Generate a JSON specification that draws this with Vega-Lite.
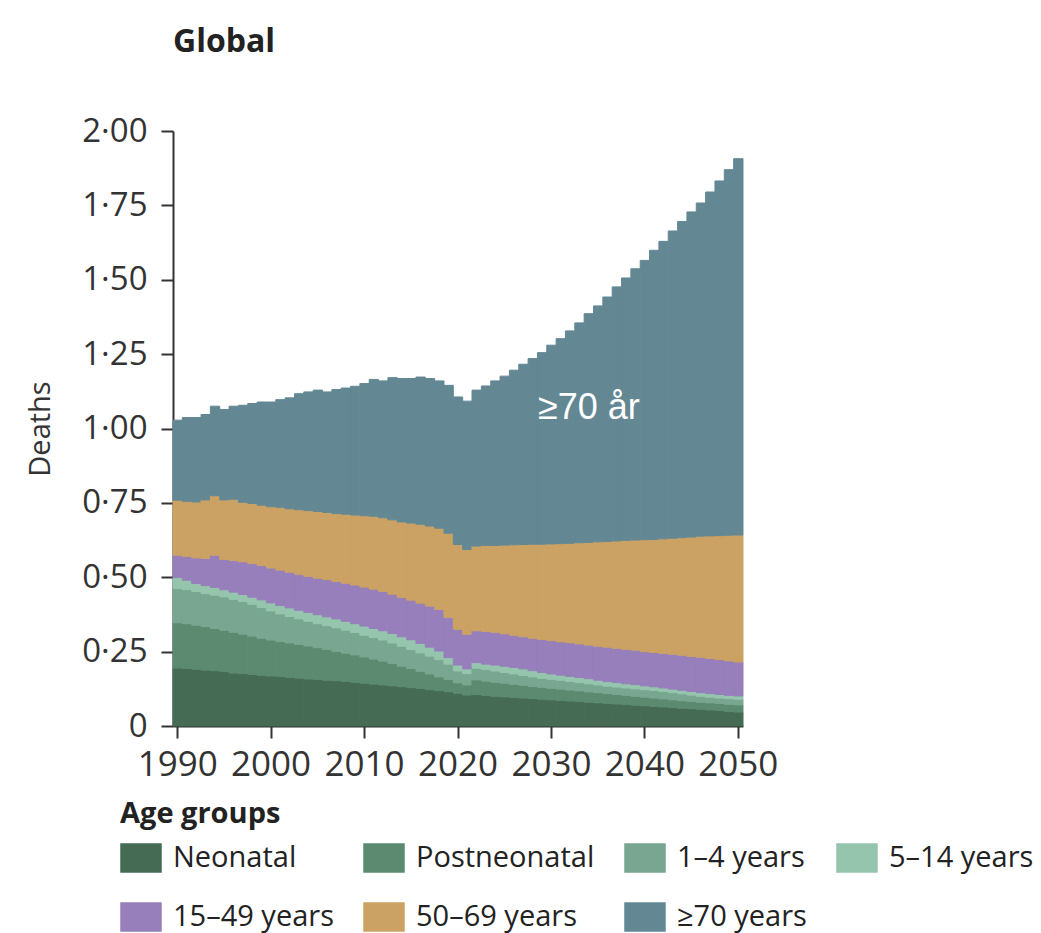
{
"$schema":"https://vega.github.io/schema/vega-lite/v6.json",
"width":570,"height":595,
"autosize":"none",
"padding":{"left":173,"top":131,"right":298,"bottom":207},
"background":"white",
"title":{"text":"Global","anchor":"start","frame":"group","offset":56,"font":"Open Sans","fontSize":32,"fontWeight":"bold","color":"#222"},
"config":{"view":{"stroke":null},"font":"Open Sans"},
"layer":[
{"data":{"values":[
{"year":1990,"group":"Neonatal","deaths":0.195},{"year":1990,"group":"Postneonatal","deaths":0.152},{"year":1990,"group":"1–4 years","deaths":0.115},{"year":1990,"group":"5–14 years","deaths":0.037},{"year":1990,"group":"15–49 years","deaths":0.075},{"year":1990,"group":"50–69 years","deaths":0.185},{"year":1990,"group":"≥70 years","deaths":0.269},
{"year":1991,"group":"Neonatal","deaths":0.193},{"year":1991,"group":"Postneonatal","deaths":0.151},{"year":1991,"group":"1–4 years","deaths":0.114},{"year":1991,"group":"5–14 years","deaths":0.032},{"year":1991,"group":"15–49 years","deaths":0.080},{"year":1991,"group":"50–69 years","deaths":0.185},{"year":1991,"group":"≥70 years","deaths":0.282},
{"year":1992,"group":"Neonatal","deaths":0.191},{"year":1992,"group":"Postneonatal","deaths":0.148},{"year":1992,"group":"1–4 years","deaths":0.113},{"year":1992,"group":"5–14 years","deaths":0.027},{"year":1992,"group":"15–49 years","deaths":0.086},{"year":1992,"group":"50–69 years","deaths":0.188},{"year":1992,"group":"≥70 years","deaths":0.284},
{"year":1993,"group":"Neonatal","deaths":0.188},{"year":1993,"group":"Postneonatal","deaths":0.146},{"year":1993,"group":"1–4 years","deaths":0.111},{"year":1993,"group":"5–14 years","deaths":0.027},{"year":1993,"group":"15–49 years","deaths":0.091},{"year":1993,"group":"50–69 years","deaths":0.197},{"year":1993,"group":"≥70 years","deaths":0.287},
{"year":1994,"group":"Neonatal","deaths":0.186},{"year":1994,"group":"Postneonatal","deaths":0.142},{"year":1994,"group":"1–4 years","deaths":0.112},{"year":1994,"group":"5–14 years","deaths":0.026},{"year":1994,"group":"15–49 years","deaths":0.108},{"year":1994,"group":"50–69 years","deaths":0.200},{"year":1994,"group":"≥70 years","deaths":0.301},
{"year":1995,"group":"Neonatal","deaths":0.183},{"year":1995,"group":"Postneonatal","deaths":0.139},{"year":1995,"group":"1–4 years","deaths":0.112},{"year":1995,"group":"5–14 years","deaths":0.024},{"year":1995,"group":"15–49 years","deaths":0.102},{"year":1995,"group":"50–69 years","deaths":0.200},{"year":1995,"group":"≥70 years","deaths":0.304},
{"year":1996,"group":"Neonatal","deaths":0.178},{"year":1996,"group":"Postneonatal","deaths":0.137},{"year":1996,"group":"1–4 years","deaths":0.111},{"year":1996,"group":"5–14 years","deaths":0.024},{"year":1996,"group":"15–49 years","deaths":0.106},{"year":1996,"group":"50–69 years","deaths":0.206},{"year":1996,"group":"≥70 years","deaths":0.313},
{"year":1997,"group":"Neonatal","deaths":0.176},{"year":1997,"group":"Postneonatal","deaths":0.133},{"year":1997,"group":"1–4 years","deaths":0.109},{"year":1997,"group":"5–14 years","deaths":0.024},{"year":1997,"group":"15–49 years","deaths":0.110},{"year":1997,"group":"50–69 years","deaths":0.200},{"year":1997,"group":"≥70 years","deaths":0.326},
{"year":1998,"group":"Neonatal","deaths":0.173},{"year":1998,"group":"Postneonatal","deaths":0.129},{"year":1998,"group":"1–4 years","deaths":0.107},{"year":1998,"group":"5–14 years","deaths":0.024},{"year":1998,"group":"15–49 years","deaths":0.113},{"year":1998,"group":"50–69 years","deaths":0.202},{"year":1998,"group":"≥70 years","deaths":0.336},
{"year":1999,"group":"Neonatal","deaths":0.170},{"year":1999,"group":"Postneonatal","deaths":0.125},{"year":1999,"group":"1–4 years","deaths":0.103},{"year":1999,"group":"5–14 years","deaths":0.026},{"year":1999,"group":"15–49 years","deaths":0.116},{"year":1999,"group":"50–69 years","deaths":0.202},{"year":1999,"group":"≥70 years","deaths":0.347},
{"year":2000,"group":"Neonatal","deaths":0.168},{"year":2000,"group":"Postneonatal","deaths":0.121},{"year":2000,"group":"1–4 years","deaths":0.098},{"year":2000,"group":"5–14 years","deaths":0.027},{"year":2000,"group":"15–49 years","deaths":0.117},{"year":2000,"group":"50–69 years","deaths":0.206},{"year":2000,"group":"≥70 years","deaths":0.352},
{"year":2001,"group":"Neonatal","deaths":0.166},{"year":2001,"group":"Postneonatal","deaths":0.118},{"year":2001,"group":"1–4 years","deaths":0.093},{"year":2001,"group":"5–14 years","deaths":0.028},{"year":2001,"group":"15–49 years","deaths":0.119},{"year":2001,"group":"50–69 years","deaths":0.211},{"year":2001,"group":"≥70 years","deaths":0.362},
{"year":2002,"group":"Neonatal","deaths":0.163},{"year":2002,"group":"Postneonatal","deaths":0.116},{"year":2002,"group":"1–4 years","deaths":0.089},{"year":2002,"group":"5–14 years","deaths":0.029},{"year":2002,"group":"15–49 years","deaths":0.120},{"year":2002,"group":"50–69 years","deaths":0.213},{"year":2002,"group":"≥70 years","deaths":0.373},
{"year":2003,"group":"Neonatal","deaths":0.161},{"year":2003,"group":"Postneonatal","deaths":0.113},{"year":2003,"group":"1–4 years","deaths":0.086},{"year":2003,"group":"5–14 years","deaths":0.029},{"year":2003,"group":"15–49 years","deaths":0.121},{"year":2003,"group":"50–69 years","deaths":0.217},{"year":2003,"group":"≥70 years","deaths":0.390},
{"year":2004,"group":"Neonatal","deaths":0.158},{"year":2004,"group":"Postneonatal","deaths":0.111},{"year":2004,"group":"1–4 years","deaths":0.083},{"year":2004,"group":"5–14 years","deaths":0.030},{"year":2004,"group":"15–49 years","deaths":0.121},{"year":2004,"group":"50–69 years","deaths":0.221},{"year":2004,"group":"≥70 years","deaths":0.399},
{"year":2005,"group":"Neonatal","deaths":0.156},{"year":2005,"group":"Postneonatal","deaths":0.107},{"year":2005,"group":"1–4 years","deaths":0.081},{"year":2005,"group":"5–14 years","deaths":0.030},{"year":2005,"group":"15–49 years","deaths":0.123},{"year":2005,"group":"50–69 years","deaths":0.224},{"year":2005,"group":"≥70 years","deaths":0.408},
{"year":2006,"group":"Neonatal","deaths":0.154},{"year":2006,"group":"Postneonatal","deaths":0.103},{"year":2006,"group":"1–4 years","deaths":0.080},{"year":2006,"group":"5–14 years","deaths":0.030},{"year":2006,"group":"15–49 years","deaths":0.125},{"year":2006,"group":"50–69 years","deaths":0.226},{"year":2006,"group":"≥70 years","deaths":0.405},
{"year":2007,"group":"Neonatal","deaths":0.152},{"year":2007,"group":"Postneonatal","deaths":0.099},{"year":2007,"group":"1–4 years","deaths":0.079},{"year":2007,"group":"5–14 years","deaths":0.030},{"year":2007,"group":"15–49 years","deaths":0.126},{"year":2007,"group":"50–69 years","deaths":0.228},{"year":2007,"group":"≥70 years","deaths":0.417},
{"year":2008,"group":"Neonatal","deaths":0.150},{"year":2008,"group":"Postneonatal","deaths":0.095},{"year":2008,"group":"1–4 years","deaths":0.077},{"year":2008,"group":"5–14 years","deaths":0.030},{"year":2008,"group":"15–49 years","deaths":0.128},{"year":2008,"group":"50–69 years","deaths":0.232},{"year":2008,"group":"≥70 years","deaths":0.424},
{"year":2009,"group":"Neonatal","deaths":0.147},{"year":2009,"group":"Postneonatal","deaths":0.092},{"year":2009,"group":"1–4 years","deaths":0.075},{"year":2009,"group":"5–14 years","deaths":0.030},{"year":2009,"group":"15–49 years","deaths":0.130},{"year":2009,"group":"50–69 years","deaths":0.235},{"year":2009,"group":"≥70 years","deaths":0.433},
{"year":2010,"group":"Neonatal","deaths":0.144},{"year":2010,"group":"Postneonatal","deaths":0.088},{"year":2010,"group":"1–4 years","deaths":0.073},{"year":2010,"group":"5–14 years","deaths":0.031},{"year":2010,"group":"15–49 years","deaths":0.131},{"year":2010,"group":"50–69 years","deaths":0.240},{"year":2010,"group":"≥70 years","deaths":0.444},
{"year":2011,"group":"Neonatal","deaths":0.141},{"year":2011,"group":"Postneonatal","deaths":0.084},{"year":2011,"group":"1–4 years","deaths":0.072},{"year":2011,"group":"5–14 years","deaths":0.031},{"year":2011,"group":"15–49 years","deaths":0.132},{"year":2011,"group":"50–69 years","deaths":0.245},{"year":2011,"group":"≥70 years","deaths":0.460},
{"year":2012,"group":"Neonatal","deaths":0.138},{"year":2012,"group":"Postneonatal","deaths":0.080},{"year":2012,"group":"1–4 years","deaths":0.071},{"year":2012,"group":"5–14 years","deaths":0.031},{"year":2012,"group":"15–49 years","deaths":0.132},{"year":2012,"group":"50–69 years","deaths":0.248},{"year":2012,"group":"≥70 years","deaths":0.460},
{"year":2013,"group":"Neonatal","deaths":0.135},{"year":2013,"group":"Postneonatal","deaths":0.075},{"year":2013,"group":"1–4 years","deaths":0.069},{"year":2013,"group":"5–14 years","deaths":0.032},{"year":2013,"group":"15–49 years","deaths":0.132},{"year":2013,"group":"50–69 years","deaths":0.250},{"year":2013,"group":"≥70 years","deaths":0.478},
{"year":2014,"group":"Neonatal","deaths":0.132},{"year":2014,"group":"Postneonatal","deaths":0.069},{"year":2014,"group":"1–4 years","deaths":0.067},{"year":2014,"group":"5–14 years","deaths":0.032},{"year":2014,"group":"15–49 years","deaths":0.132},{"year":2014,"group":"50–69 years","deaths":0.254},{"year":2014,"group":"≥70 years","deaths":0.482},
{"year":2015,"group":"Neonatal","deaths":0.129},{"year":2015,"group":"Postneonatal","deaths":0.064},{"year":2015,"group":"1–4 years","deaths":0.064},{"year":2015,"group":"5–14 years","deaths":0.033},{"year":2015,"group":"15–49 years","deaths":0.133},{"year":2015,"group":"50–69 years","deaths":0.259},{"year":2015,"group":"≥70 years","deaths":0.486},
{"year":2016,"group":"Neonatal","deaths":0.126},{"year":2016,"group":"Postneonatal","deaths":0.058},{"year":2016,"group":"1–4 years","deaths":0.062},{"year":2016,"group":"5–14 years","deaths":0.032},{"year":2016,"group":"15–49 years","deaths":0.135},{"year":2016,"group":"50–69 years","deaths":0.265},{"year":2016,"group":"≥70 years","deaths":0.495},
{"year":2017,"group":"Neonatal","deaths":0.122},{"year":2017,"group":"Postneonatal","deaths":0.053},{"year":2017,"group":"1–4 years","deaths":0.060},{"year":2017,"group":"5–14 years","deaths":0.030},{"year":2017,"group":"15–49 years","deaths":0.138},{"year":2017,"group":"50–69 years","deaths":0.269},{"year":2017,"group":"≥70 years","deaths":0.496},
{"year":2018,"group":"Neonatal","deaths":0.119},{"year":2018,"group":"Postneonatal","deaths":0.046},{"year":2018,"group":"1–4 years","deaths":0.058},{"year":2018,"group":"5–14 years","deaths":0.029},{"year":2018,"group":"15–49 years","deaths":0.140},{"year":2018,"group":"50–69 years","deaths":0.273},{"year":2018,"group":"≥70 years","deaths":0.495},
{"year":2019,"group":"Neonatal","deaths":0.115},{"year":2019,"group":"Postneonatal","deaths":0.041},{"year":2019,"group":"1–4 years","deaths":0.052},{"year":2019,"group":"5–14 years","deaths":0.022},{"year":2019,"group":"15–49 years","deaths":0.135},{"year":2019,"group":"50–69 years","deaths":0.283},{"year":2019,"group":"≥70 years","deaths":0.497},
{"year":2020,"group":"Neonatal","deaths":0.110},{"year":2020,"group":"Postneonatal","deaths":0.035},{"year":2020,"group":"1–4 years","deaths":0.040},{"year":2020,"group":"5–14 years","deaths":0.020},{"year":2020,"group":"15–49 years","deaths":0.120},{"year":2020,"group":"50–69 years","deaths":0.285},{"year":2020,"group":"≥70 years","deaths":0.496},
{"year":2021,"group":"Neonatal","deaths":0.104},{"year":2021,"group":"Postneonatal","deaths":0.034},{"year":2021,"group":"1–4 years","deaths":0.038},{"year":2021,"group":"5–14 years","deaths":0.016},{"year":2021,"group":"15–49 years","deaths":0.116},{"year":2021,"group":"50–69 years","deaths":0.285},{"year":2021,"group":"≥70 years","deaths":0.499},
{"year":2022,"group":"Neonatal","deaths":0.106},{"year":2022,"group":"Postneonatal","deaths":0.049},{"year":2022,"group":"1–4 years","deaths":0.039},{"year":2022,"group":"5–14 years","deaths":0.019},{"year":2022,"group":"15–49 years","deaths":0.107},{"year":2022,"group":"50–69 years","deaths":0.285},{"year":2022,"group":"≥70 years","deaths":0.524},
{"year":2023,"group":"Neonatal","deaths":0.103},{"year":2023,"group":"Postneonatal","deaths":0.048},{"year":2023,"group":"1–4 years","deaths":0.039},{"year":2023,"group":"5–14 years","deaths":0.018},{"year":2023,"group":"15–49 years","deaths":0.110},{"year":2023,"group":"50–69 years","deaths":0.289},{"year":2023,"group":"≥70 years","deaths":0.536},
{"year":2024,"group":"Neonatal","deaths":0.100},{"year":2024,"group":"Postneonatal","deaths":0.047},{"year":2024,"group":"1–4 years","deaths":0.038},{"year":2024,"group":"5–14 years","deaths":0.020},{"year":2024,"group":"15–49 years","deaths":0.110},{"year":2024,"group":"50–69 years","deaths":0.292},{"year":2024,"group":"≥70 years","deaths":0.553},
{"year":2025,"group":"Neonatal","deaths":0.098},{"year":2025,"group":"Postneonatal","deaths":0.046},{"year":2025,"group":"1–4 years","deaths":0.036},{"year":2025,"group":"5–14 years","deaths":0.021},{"year":2025,"group":"15–49 years","deaths":0.109},{"year":2025,"group":"50–69 years","deaths":0.298},{"year":2025,"group":"≥70 years","deaths":0.568},
{"year":2026,"group":"Neonatal","deaths":0.096},{"year":2026,"group":"Postneonatal","deaths":0.044},{"year":2026,"group":"1–4 years","deaths":0.035},{"year":2026,"group":"5–14 years","deaths":0.022},{"year":2026,"group":"15–49 years","deaths":0.108},{"year":2026,"group":"50–69 years","deaths":0.304},{"year":2026,"group":"≥70 years","deaths":0.587},
{"year":2027,"group":"Neonatal","deaths":0.094},{"year":2027,"group":"Postneonatal","deaths":0.043},{"year":2027,"group":"1–4 years","deaths":0.033},{"year":2027,"group":"5–14 years","deaths":0.022},{"year":2027,"group":"15–49 years","deaths":0.108},{"year":2027,"group":"50–69 years","deaths":0.310},{"year":2027,"group":"≥70 years","deaths":0.606},
{"year":2028,"group":"Neonatal","deaths":0.092},{"year":2028,"group":"Postneonatal","deaths":0.041},{"year":2028,"group":"1–4 years","deaths":0.032},{"year":2028,"group":"5–14 years","deaths":0.021},{"year":2028,"group":"15–49 years","deaths":0.109},{"year":2028,"group":"50–69 years","deaths":0.316},{"year":2028,"group":"≥70 years","deaths":0.624},
{"year":2029,"group":"Neonatal","deaths":0.090},{"year":2029,"group":"Postneonatal","deaths":0.040},{"year":2029,"group":"1–4 years","deaths":0.030},{"year":2029,"group":"5–14 years","deaths":0.020},{"year":2029,"group":"15–49 years","deaths":0.111},{"year":2029,"group":"50–69 years","deaths":0.320},{"year":2029,"group":"≥70 years","deaths":0.644},
{"year":2030,"group":"Neonatal","deaths":0.088},{"year":2030,"group":"Postneonatal","deaths":0.039},{"year":2030,"group":"1–4 years","deaths":0.030},{"year":2030,"group":"5–14 years","deaths":0.018},{"year":2030,"group":"15–49 years","deaths":0.112},{"year":2030,"group":"50–69 years","deaths":0.325},{"year":2030,"group":"≥70 years","deaths":0.668},
{"year":2031,"group":"Neonatal","deaths":0.086},{"year":2031,"group":"Postneonatal","deaths":0.038},{"year":2031,"group":"1–4 years","deaths":0.030},{"year":2031,"group":"5–14 years","deaths":0.017},{"year":2031,"group":"15–49 years","deaths":0.112},{"year":2031,"group":"50–69 years","deaths":0.330},{"year":2031,"group":"≥70 years","deaths":0.689},
{"year":2032,"group":"Neonatal","deaths":0.084},{"year":2032,"group":"Postneonatal","deaths":0.037},{"year":2032,"group":"1–4 years","deaths":0.029},{"year":2032,"group":"5–14 years","deaths":0.017},{"year":2032,"group":"15–49 years","deaths":0.113},{"year":2032,"group":"50–69 years","deaths":0.334},{"year":2032,"group":"≥70 years","deaths":0.714},
{"year":2033,"group":"Neonatal","deaths":0.082},{"year":2033,"group":"Postneonatal","deaths":0.036},{"year":2033,"group":"1–4 years","deaths":0.028},{"year":2033,"group":"5–14 years","deaths":0.017},{"year":2033,"group":"15–49 years","deaths":0.113},{"year":2033,"group":"50–69 years","deaths":0.340},{"year":2033,"group":"≥70 years","deaths":0.739},
{"year":2034,"group":"Neonatal","deaths":0.080},{"year":2034,"group":"Postneonatal","deaths":0.035},{"year":2034,"group":"1–4 years","deaths":0.027},{"year":2034,"group":"5–14 years","deaths":0.017},{"year":2034,"group":"15–49 years","deaths":0.113},{"year":2034,"group":"50–69 years","deaths":0.345},{"year":2034,"group":"≥70 years","deaths":0.769},
{"year":2035,"group":"Neonatal","deaths":0.078},{"year":2035,"group":"Postneonatal","deaths":0.034},{"year":2035,"group":"1–4 years","deaths":0.026},{"year":2035,"group":"5–14 years","deaths":0.016},{"year":2035,"group":"15–49 years","deaths":0.114},{"year":2035,"group":"50–69 years","deaths":0.351},{"year":2035,"group":"≥70 years","deaths":0.793},
{"year":2036,"group":"Neonatal","deaths":0.076},{"year":2036,"group":"Postneonatal","deaths":0.033},{"year":2036,"group":"1–4 years","deaths":0.025},{"year":2036,"group":"5–14 years","deaths":0.015},{"year":2036,"group":"15–49 years","deaths":0.116},{"year":2036,"group":"50–69 years","deaths":0.355},{"year":2036,"group":"≥70 years","deaths":0.822},
{"year":2037,"group":"Neonatal","deaths":0.074},{"year":2037,"group":"Postneonatal","deaths":0.032},{"year":2037,"group":"1–4 years","deaths":0.025},{"year":2037,"group":"5–14 years","deaths":0.015},{"year":2037,"group":"15–49 years","deaths":0.115},{"year":2037,"group":"50–69 years","deaths":0.361},{"year":2037,"group":"≥70 years","deaths":0.854},
{"year":2038,"group":"Neonatal","deaths":0.072},{"year":2038,"group":"Postneonatal","deaths":0.031},{"year":2038,"group":"1–4 years","deaths":0.025},{"year":2038,"group":"5–14 years","deaths":0.014},{"year":2038,"group":"15–49 years","deaths":0.116},{"year":2038,"group":"50–69 years","deaths":0.366},{"year":2038,"group":"≥70 years","deaths":0.882},
{"year":2039,"group":"Neonatal","deaths":0.070},{"year":2039,"group":"Postneonatal","deaths":0.030},{"year":2039,"group":"1–4 years","deaths":0.025},{"year":2039,"group":"5–14 years","deaths":0.014},{"year":2039,"group":"15–49 years","deaths":0.116},{"year":2039,"group":"50–69 years","deaths":0.370},{"year":2039,"group":"≥70 years","deaths":0.912},
{"year":2040,"group":"Neonatal","deaths":0.068},{"year":2040,"group":"Postneonatal","deaths":0.029},{"year":2040,"group":"1–4 years","deaths":0.025},{"year":2040,"group":"5–14 years","deaths":0.013},{"year":2040,"group":"15–49 years","deaths":0.115},{"year":2040,"group":"50–69 years","deaths":0.376},{"year":2040,"group":"≥70 years","deaths":0.939},
{"year":2041,"group":"Neonatal","deaths":0.066},{"year":2041,"group":"Postneonatal","deaths":0.028},{"year":2041,"group":"1–4 years","deaths":0.026},{"year":2041,"group":"5–14 years","deaths":0.012},{"year":2041,"group":"15–49 years","deaths":0.115},{"year":2041,"group":"50–69 years","deaths":0.380},{"year":2041,"group":"≥70 years","deaths":0.972},
{"year":2042,"group":"Neonatal","deaths":0.064},{"year":2042,"group":"Postneonatal","deaths":0.027},{"year":2042,"group":"1–4 years","deaths":0.025},{"year":2042,"group":"5–14 years","deaths":0.012},{"year":2042,"group":"15–49 years","deaths":0.116},{"year":2042,"group":"50–69 years","deaths":0.385},{"year":2042,"group":"≥70 years","deaths":1.000},
{"year":2043,"group":"Neonatal","deaths":0.062},{"year":2043,"group":"Postneonatal","deaths":0.026},{"year":2043,"group":"1–4 years","deaths":0.024},{"year":2043,"group":"5–14 years","deaths":0.012},{"year":2043,"group":"15–49 years","deaths":0.117},{"year":2043,"group":"50–69 years","deaths":0.390},{"year":2043,"group":"≥70 years","deaths":1.033},
{"year":2044,"group":"Neonatal","deaths":0.060},{"year":2044,"group":"Postneonatal","deaths":0.025},{"year":2044,"group":"1–4 years","deaths":0.023},{"year":2044,"group":"5–14 years","deaths":0.012},{"year":2044,"group":"15–49 years","deaths":0.118},{"year":2044,"group":"50–69 years","deaths":0.395},{"year":2044,"group":"≥70 years","deaths":1.063},
{"year":2045,"group":"Neonatal","deaths":0.058},{"year":2045,"group":"Postneonatal","deaths":0.025},{"year":2045,"group":"1–4 years","deaths":0.021},{"year":2045,"group":"5–14 years","deaths":0.012},{"year":2045,"group":"15–49 years","deaths":0.118},{"year":2045,"group":"50–69 years","deaths":0.401},{"year":2045,"group":"≥70 years","deaths":1.093},
{"year":2046,"group":"Neonatal","deaths":0.056},{"year":2046,"group":"Postneonatal","deaths":0.024},{"year":2046,"group":"1–4 years","deaths":0.020},{"year":2046,"group":"5–14 years","deaths":0.012},{"year":2046,"group":"15–49 years","deaths":0.119},{"year":2046,"group":"50–69 years","deaths":0.407},{"year":2046,"group":"≥70 years","deaths":1.120},
{"year":2047,"group":"Neonatal","deaths":0.054},{"year":2047,"group":"Postneonatal","deaths":0.024},{"year":2047,"group":"1–4 years","deaths":0.019},{"year":2047,"group":"5–14 years","deaths":0.012},{"year":2047,"group":"15–49 years","deaths":0.118},{"year":2047,"group":"50–69 years","deaths":0.412},{"year":2047,"group":"≥70 years","deaths":1.156},
{"year":2048,"group":"Neonatal","deaths":0.052},{"year":2048,"group":"Postneonatal","deaths":0.024},{"year":2048,"group":"1–4 years","deaths":0.018},{"year":2048,"group":"5–14 years","deaths":0.012},{"year":2048,"group":"15–49 years","deaths":0.117},{"year":2048,"group":"50–69 years","deaths":0.417},{"year":2048,"group":"≥70 years","deaths":1.192},
{"year":2049,"group":"Neonatal","deaths":0.049},{"year":2049,"group":"Postneonatal","deaths":0.024},{"year":2049,"group":"1–4 years","deaths":0.019},{"year":2049,"group":"5–14 years","deaths":0.011},{"year":2049,"group":"15–49 years","deaths":0.116},{"year":2049,"group":"50–69 years","deaths":0.422},{"year":2049,"group":"≥70 years","deaths":1.229},
{"year":2050,"group":"Neonatal","deaths":0.047},{"year":2050,"group":"Postneonatal","deaths":0.024},{"year":2050,"group":"1–4 years","deaths":0.019},{"year":2050,"group":"5–14 years","deaths":0.011},{"year":2050,"group":"15–49 years","deaths":0.114},{"year":2050,"group":"50–69 years","deaths":0.427},{"year":2050,"group":"≥70 years","deaths":1.265}
]},
"transform":[{"calculate":"indexof(['Neonatal','Postneonatal','1–4 years','5–14 years','15–49 years','50–69 years','≥70 years'], datum.group)","as":"rank"}],
"mark":{"type":"bar","strokeWidth":1},
"encoding":{
"x":{"field":"year","type":"ordinal","scale":{"paddingInner":0,"paddingOuter":0},
 "axis":{"title":null,"values":[1990,2000,2010,2020,2030,2040,2050],"labelAngle":0,"bandPosition":0.5,"grid":false,"domainColor":"#333","domainWidth":2,"tickColor":"#333","tickWidth":2,"tickSize":12,"labelFont":"Open Sans","labelFontSize":35,"labelColor":"#333","labelPadding":9}},
"y":{"field":"deaths","type":"quantitative","stack":"zero","scale":{"domain":[0,2],"nice":false},
 "axis":{"title":"Deaths","values":[0,0.25,0.5,0.75,1,1.25,1.5,1.75,2],"labelExpr":"datum.value === 0 ? '0' : replace(format(datum.value, '.2f'), '.', '·')","grid":false,"domainColor":"#333","domainWidth":2,"tickColor":"#333","tickWidth":2,"tickSize":12,"labelFont":"Open Sans","labelFontSize":33,"labelColor":"#333","labelPadding":14,"titleFont":"Open Sans","titleFontSize":29,"titleFontWeight":"normal","titleColor":"#333","titlePadding":26}},
"order":{"field":"rank","type":"quantitative","sort":"ascending"},
"color":{"field":"group","type":"nominal","sort":["Neonatal","Postneonatal","1–4 years","5–14 years","15–49 years","50–69 years","≥70 years"],
 "scale":{"domain":["Neonatal","Postneonatal","1–4 years","5–14 years","15–49 years","50–69 years","≥70 years"],"range":["#466b55","#5c8a70","#79a690","#95c5ad","#967fbb","#cba263","#638894"]},
 "legend":{"title":"Age groups","orient":"none","legendX":-53,"legendY":669,"direction":"horizontal","columns":4,"columnPadding":27,"rowPadding":21,"symbolType":"M-1,-0.7L1,-0.7L1,0.7L-1,0.7Z","symbolSize":1600,"symbolStrokeColor":"#333","symbolStrokeWidth":1.5,"symbolOpacity":1,"labelFont":"Open Sans","labelFontSize":29,"labelColor":"#222","labelOffset":11,"labelLimit":400,"titleFont":"Open Sans","titleFontSize":29,"titleFontWeight":"bold","titleColor":"#222","titlePadding":8,
  "encode":{"symbols":{"update":{"stroke":{"value":"#333"},"strokeWidth":{"value":1.5}}}}}},
"stroke":{"field":"group","type":"nominal","sort":["Neonatal","Postneonatal","1–4 years","5–14 years","15–49 years","50–69 years","≥70 years"],
 "scale":{"domain":["Neonatal","Postneonatal","1–4 years","5–14 years","15–49 years","50–69 years","≥70 years"],"range":["#466b55","#5c8a70","#79a690","#95c5ad","#967fbb","#cba263","#638894"]},"legend":null}
}},
{"data":{"values":[{"year":2034,"pos":1.07,"label":"≥70 år"}]},
"mark":{"type":"text","color":"white","font":"Liberation Sans","fontSize":36,"align":"center","baseline":"middle"},
"encoding":{"x":{"field":"year","type":"ordinal","title":null},"y":{"field":"pos","type":"quantitative","stack":null,"title":"Deaths"},"text":{"field":"label"}}}
]
}
